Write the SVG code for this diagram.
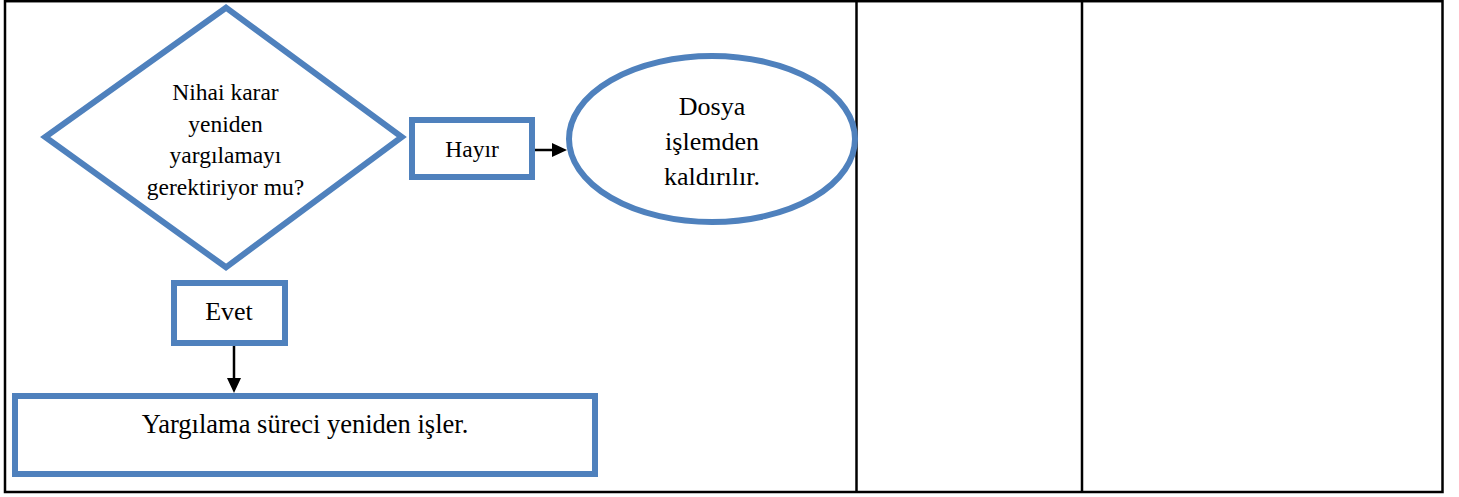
<svg xmlns="http://www.w3.org/2000/svg" width="1459" height="497" viewBox="0 0 1459 497">
  <style>
    .grid { fill: none; stroke: #000; stroke-width: 2.5; }
    .shape { fill: #fff; stroke: #4F81BD; stroke-width: 6; stroke-linejoin: miter; }
    .conn { stroke: #000; stroke-width: 2.5; fill: none; }
    text { font-family: "Liberation Serif", "Times New Roman", serif; fill: #000; text-anchor: middle; }
    .t23 { font-size: 23.5px; }
    .t26 { font-size: 26px; }
  </style>
  <defs>
    <marker id="arrow" markerUnits="userSpaceOnUse" viewBox="0 0 15 14" refX="0" refY="7" markerWidth="15" markerHeight="14" orient="auto">
      <path d="M0,0 L15,7 L0,14 Z" fill="#000"/>
    </marker>
  </defs>

  <rect width="1459" height="497" fill="#fff"/>

  <g id="table">
    <rect class="grid" x="5" y="1.2" width="1437.5" height="490.8"/>
    <line class="grid" x1="856.5" y1="1" x2="856.5" y2="492"/>
    <line class="grid" x1="1082" y1="1" x2="1082" y2="492"/>
  </g>

  <g id="decision">
    <polygon class="shape" points="226,7.7 401.8,137 226,267.3 45.2,137"/>
    <text class="t23" x="225.5" y="100">Nihai karar</text>
    <text class="t23" x="225.5" y="131.5">yeniden</text>
    <text class="t23" x="225.5" y="163">yargılamayı</text>
    <text class="t23" x="225.5" y="194.5">gerektiriyor mu?</text>
  </g>

  <g id="hayir">
    <rect class="shape" x="412" y="120" width="120" height="57"/>
    <text class="t23" x="472" y="157">Hayır</text>
  </g>

  <g id="dosya">
    <ellipse class="shape" cx="712" cy="139" rx="143" ry="83"/>
    <text class="t26" x="712" y="115">Dosya</text>
    <text class="t26" x="712" y="150">işlemden</text>
    <text class="t26" x="712" y="185">kaldırılır.</text>
  </g>

  <g id="evet">
    <rect class="shape" x="174" y="283" width="111" height="60"/>
    <text class="t26" x="229" y="320">Evet</text>
  </g>

  <g id="yargilama">
    <rect class="shape" x="15" y="396" width="580" height="78"/>
    <text x="305" y="433" style="font-size:26.5px">Yargılama süreci yeniden işler.</text>
  </g>

  <g id="connectors">
    <line class="conn" x1="535" y1="150" x2="552" y2="150" marker-end="url(#arrow)"/>
    <line class="conn" x1="234" y1="346" x2="234" y2="378" marker-end="url(#arrow)"/>
  </g>
</svg>
